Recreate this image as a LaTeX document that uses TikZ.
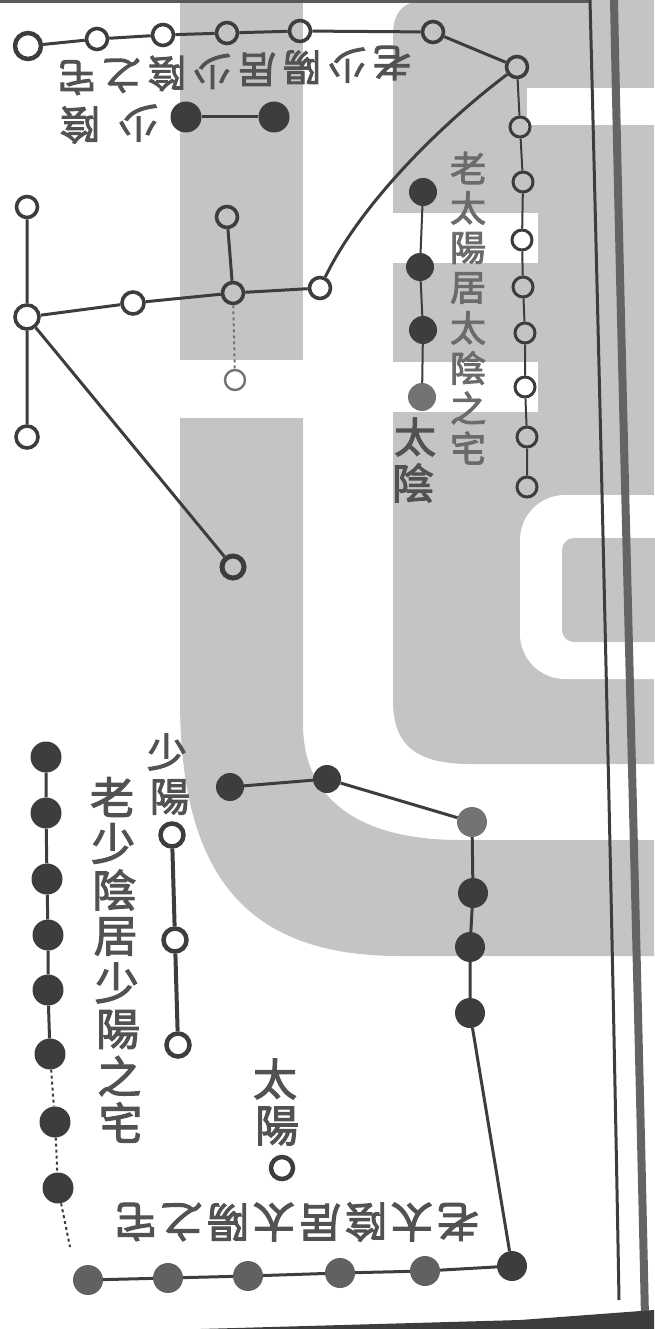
\documentclass[tikz,border=0pt]{standalone}
\usepackage{fontspec}
\newfontfamily\cjk{Noto Sans CJK TC}[FakeBold=2.5]
\definecolor{wm}{gray}{0.77}
\definecolor{ink}{gray}{0.24}
\tikzset{
  oc/.style={circle, draw=ink, line width=3.6pt, minimum size=21pt, inner sep=0pt},
  fc/.style={circle, fill=ink, minimum size=28pt, inner sep=0pt},
  ln/.style={draw=ink, line width=3pt},
  lnthin/.style={draw=ink, line width=2pt},
  chr/.style={text=black!68, inner sep=0pt},
}
\begin{document}
\begin{tikzpicture}[x=1pt,y=-1pt]
\useasboundingbox (0,0) rectangle (654,1329);
% ---- watermark ----
\fill[wm] (180,0) rectangle (303,360);
\fill[wm] (180,418) -- (180,700) .. controls (180,880) and (250,956) .. (400,956) -- (654,956) -- (654,840) -- (460,840) .. controls (360,840) and (303,800) .. (303,724) -- (303,418) -- cycle;
\fill[wm] (430,0) -- (654,0) -- (654,764) -- (470,764) .. controls (410,764) and (393,740) .. (393,700) -- (393,35) .. controls (393,10) and (405,0) .. (430,0) -- cycle;
\fill[white] (527,88) rectangle (660,125);
\fill[white] (390,213) rectangle (538,263);
\fill[white] (300,362) rectangle (538,412);
\fill[white, rounded corners=45pt] (720,495) -- (520,495) -- (520,679) -- (720,679) -- cycle;
\fill[wm, rounded corners=12pt] (562,538) rectangle (720,642);
% ---- frame lines ----
\draw[ink!85, line width=3pt] (0,1.5) -- (590,1.5);
\draw[ink, line width=3pt] (590,0) .. controls (600,400) and (612,900) .. (619,1300);
\draw[ink!80, line width=8pt] (614,0) .. controls (622,400) and (636,900) .. (645,1318);
\fill[ink] (200,1329) -- (654,1329) -- (654,1310) -- (520,1320) -- cycle;
% ---- top row of open circles ----
\node[oc, minimum size=26pt, line width=4.5pt] (a1) at (28,46) {};
\node[oc] (a2) at (97,39) {};
\node[oc] (a3) at (163,35) {};
\node[oc] (a4) at (227,33) {};
\node[oc] (a5) at (300,31) {};
\node[oc] (a6) at (433,32) {};
\node[oc] (a7) at (517,67) {};
\draw[ln] (a1)--(a2) (a2)--(a3) (a3)--(a4) (a4)--(a5) (a5)--(a6) (a6)--(a7);
% ---- right vertical open chain ----
\node[oc, minimum size=20pt, line width=3pt] (v1) at (520,127) {};
\node[oc, minimum size=20pt, line width=3pt] (v2) at (523,182) {};
\node[oc, minimum size=20pt, line width=3pt] (v3) at (522,240) {};
\node[oc, minimum size=20pt, line width=3pt] (v4) at (523,287) {};
\node[oc, minimum size=20pt, line width=3pt] (v5) at (525,333) {};
\node[oc, minimum size=20pt, line width=3pt] (v6) at (525,387) {};
\node[oc, minimum size=20pt, line width=3pt] (v7) at (527,437) {};
\node[oc, minimum size=20pt, line width=3pt] (v8) at (527,487) {};
\draw[lnthin] (a7)--(v1) (v1)--(v2) (v2)--(v3) (v3)--(v4) (v4)--(v5) (v5)--(v6) (v6)--(v7) (v7)--(v8);
% ---- filled 太陰 chain ----
\node[fc] (f1) at (423,192) {};
\node[fc] (f2) at (420,267) {};
\node[fc] (f3) at (423,330) {};
\node[fc, fill=black!55] (f4) at (422,397) {};
\draw[lnthin] (f1)--(f2) (f2)--(f3) (f3)--(f4);
% ---- top filled pair ----
\node[fc, minimum size=31pt] (p1) at (186,117) {};
\node[fc, minimum size=31pt] (p2) at (274,117) {};
\draw[ln] (p1)--(p2);
% ---- middle crosses ----
\node[oc] (m0) at (320,288) {};
\node[oc] (mc) at (233,293) {};
\node[oc] (mu) at (227,217) {};
\node[oc, draw=black!55, line width=2.4pt, minimum size=20pt] (md) at (235,380) {};
\node[oc, minimum size=22pt] (ml) at (133,303) {};
\node[oc, minimum size=24pt] (lc) at (27,317) {};
\node[oc] (lu) at (27,207) {};
\node[oc, minimum size=22pt] (ld) at (27,437) {};
\node[oc, minimum size=22pt, line width=5pt] (lr) at (233,567) {};
\draw[ln] (a7) .. controls (440,125) and (360,205) .. (m0);
\draw[ln] (m0)--(mc) (mc)--(ml) (ml)--(lc) (mc)--(mu) (lc)--(lu) (lc)--(ld) (lc)--(lr);
\draw[lnthin, draw=black!55, dashed] (mc)--(md);
% ---- bottom hook of filled circles ----
\node[fc] (h1) at (230,787) {};
\node[fc] (h2) at (327,779) {};
\node[fc, fill=black!55, minimum size=30pt] (h3) at (472,822) {};
\node[fc, minimum size=30pt] (h4) at (473,893) {};
\node[fc, minimum size=30pt] (h5) at (470,947) {};
\node[fc, minimum size=30pt] (h6) at (470,1013) {};
\node[fc, minimum size=30pt] (b6) at (512,1266) {};
\draw[ln] (h1)--(h2) (h2)--(h3) (h3)--(h4) (h4)--(h5) (h5)--(h6) (h6)--(b6);
% ---- bottom row ----
\node[fc, fill=black!62, minimum size=30pt] (b1) at (88,1280) {};
\node[fc, fill=black!62, minimum size=30pt] (b2) at (168,1278) {};
\node[fc, fill=black!62, minimum size=30pt] (b3) at (248,1276) {};
\node[fc, fill=black!62, minimum size=30pt] (b4) at (340,1273) {};
\node[fc, fill=black!62, minimum size=30pt] (b5) at (425,1271) {};
\draw[ln] (b1)--(b2) (b2)--(b3) (b3)--(b4) (b4)--(b5) (b5)--(b6);
% ---- left column of filled circles ----
\node[fc, minimum size=31pt] (c1) at (46,757) {};
\node[fc, minimum size=31pt] (c2) at (46,813) {};
\node[fc, minimum size=31pt] (c3) at (47,879) {};
\node[fc, minimum size=31pt] (c4) at (48,935) {};
\node[fc, minimum size=31pt] (c5) at (48,990) {};
\node[fc, minimum size=31pt] (c6) at (50,1054) {};
\node[fc, minimum size=31pt] (c7) at (55,1122) {};
\node[fc, minimum size=31pt] (c8) at (58,1188) {};
\coordinate (cend) at (70,1247);
\draw[ln] (c1)--(c2) (c2)--(c3) (c3)--(c4) (c4)--(c5) (c5)--(c6);
\draw[lnthin, dashed] (c6)--(c7) (c7)--(c8) (c8)--(cend);
% ---- 少陽 open column ----
\node[oc, minimum size=23pt, line width=4.5pt] (s1) at (172,835) {};
\node[oc, minimum size=23pt, line width=4.5pt] (s2) at (175,940) {};
\node[oc, minimum size=23pt, line width=4.5pt] (s3) at (178,1045) {};
\draw[ln, line width=4pt] (s1)--(s2) (s2)--(s3);
% ---- 太陽 circle ----
\node[oc, minimum size=22pt, line width=4.5pt] (ty) at (282,1168) {};
% ---- texts ----
\foreach \c [count=\i] in {老,太,陽,居,太,陰,之,宅}
  \node[chr, text=black!58, font=\cjk\fontsize{36}{36}\selectfont] (ra\i) at (468,{168+(\i-1)*40}) {\c};
\node[chr, font=\cjk\fontsize{42}{42}\selectfont] (tl1) at (415,437) {太};
\node[chr, font=\cjk\fontsize{42}{42}\selectfont] (tl2) at (413,483) {陰};
\foreach \c [count=\i] in {老,少,陽,居,少,陰,之,宅}
  \node[chr, rotate=180, font=\cjk\fontsize{38}{38}\selectfont] (ua\i) at ({392-(\i-1)*45},{63+(\i-1)*2.1}) {\c};
\node[chr, rotate=180, font=\cjk\fontsize{40}{40}\selectfont] (ub1) at (138,123) {少};
\node[chr, rotate=180, font=\cjk\fontsize{40}{40}\selectfont] (ub2) at (80,125) {陰};
\node[chr, font=\cjk\fontsize{40}{40}\selectfont] (sy1) at (167,752) {少};
\node[chr, font=\cjk\fontsize{40}{40}\selectfont] (sy2) at (170,797) {陽};
\foreach \c [count=\i] in {老,少,陰,居,少,陽,之,宅}
  \node[chr, font=\cjk\fontsize{44}{44}\selectfont] (la\i) at ({112+(\i-1)*1.2},{797+(\i-1)*46.5}) {\c};
\node[chr, font=\cjk\fontsize{44}{44}\selectfont] (ty1) at (275,1079) {太};
\node[chr, font=\cjk\fontsize{44}{44}\selectfont] (ty2) at (277,1126) {陽};
\foreach \c [count=\i] in {老,太,陰,居,太,陽,之,宅}
  \node[chr, rotate=180, font=\cjk\fontsize{42}{42}\selectfont] (ba\i) at ({458-(\i-1)*46},1222) {\c};
\end{tikzpicture}
\end{document}
